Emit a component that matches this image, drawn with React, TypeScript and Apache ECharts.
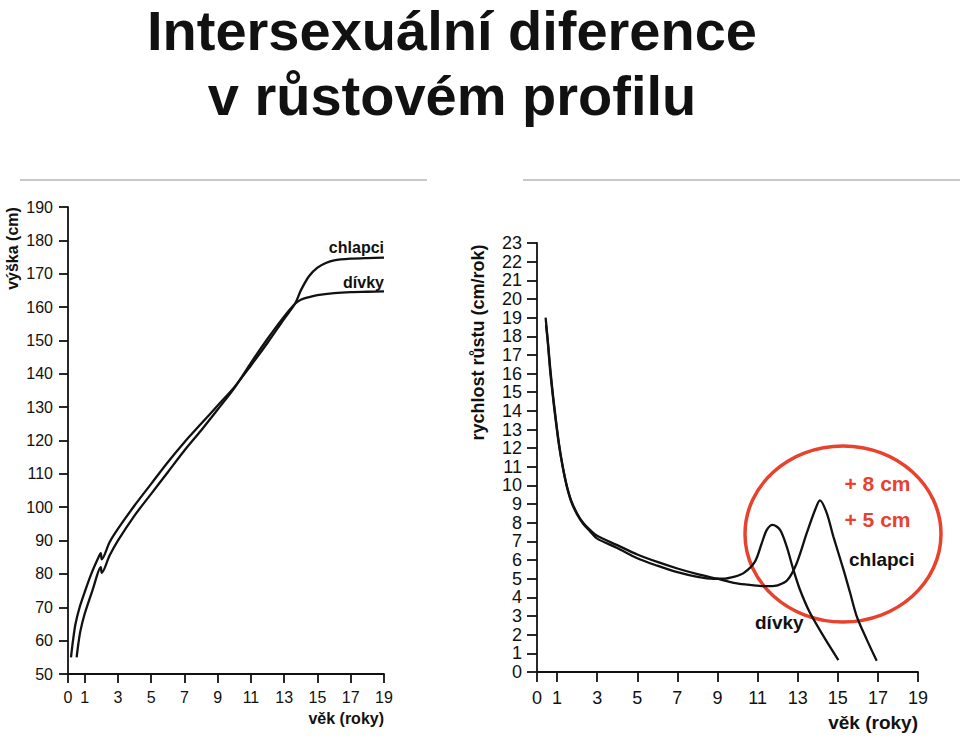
import React, { useEffect, useRef } from "react";
import * as echarts from "echarts";

// ---- data ----
const ageTicks = [0, 1, 3, 5, 7, 9, 11, 13, 15, 17, 19];

const boysHeightAges = [0.18, 0.3, 0.45, 0.7, 1.0, 1.4, 1.8, 1.97, 2.03, 2.5, 3, 4, 5, 6, 7, 8, 9, 10, 11, 12, 13, 13.65, 14, 14.5, 15, 15.5, 16, 17, 18, 19];
const boysHeight = [55, 60, 65, 70, 74.5, 80, 84.6, 86.2, 84.4, 89.5, 93.5, 100.5, 107, 113.5, 119.5, 125, 130.5, 136, 142.5, 149.3, 156.5, 161, 165, 169.3, 171.8, 173.2, 174, 174.5, 174.7, 174.8];

const girlsHeightAges = [0.52, 0.62, 0.75, 1.0, 1.5, 1.97, 2.03, 2.5, 3, 4, 5, 6, 7, 8, 9, 10, 11, 12, 13, 13.65, 14, 14.5, 15, 16, 17, 18, 19];
const girlsHeight = [55, 59, 63, 68, 75.5, 82, 80.3, 85.5, 90, 97.5, 104, 110.5, 117, 123, 129.3, 135.7, 143.3, 150.5, 157.2, 161, 162.2, 163, 163.6, 164.2, 164.5, 164.6, 164.7];

const boysVelAges = [0.43, 0.5, 0.57, 0.65, 0.78, 0.9, 1.1, 1.3, 1.48, 1.7, 2.0, 2.3, 2.64, 3, 4, 5, 6, 7, 8, 9, 9.8, 10.5, 11.1, 11.6, 12.0, 12.5, 12.95, 13.45, 13.87, 14.11, 14.45, 14.78, 15.28, 15.6, 15.94, 16.44, 16.94];
const boysVel = [19, 18.2, 17.4, 16.4, 15.0, 13.9, 12.2, 10.9, 10.0, 9.2, 8.5, 8.0, 7.62, 7.3, 6.8, 6.3, 5.9, 5.55, 5.25, 5.0, 4.78, 4.68, 4.62, 4.6, 4.64, 4.94, 5.83, 7.44, 8.7, 9.2, 8.52, 7.26, 5.5, 4.3, 3.0, 1.75, 0.6];

const girlsVelAges = [0.45, 0.52, 0.59, 0.67, 0.8, 0.92, 1.12, 1.32, 1.5, 1.72, 2.0, 2.3, 2.64, 3, 4, 5, 6, 7, 8, 8.8, 9.3, 9.8, 10.3, 10.87, 11.21, 11.46, 11.75, 12.12, 12.45, 12.78, 13.1, 13.6, 14.3, 15.03];
const girlsVel = [18.6, 17.9, 17.0, 16.0, 14.7, 13.6, 12.0, 10.8, 9.9, 9.1, 8.45, 7.95, 7.55, 7.15, 6.65, 6.1, 5.7, 5.35, 5.1, 5.0, 5.0, 5.1, 5.3, 5.92, 6.91, 7.62, 7.89, 7.62, 6.73, 5.5, 4.45, 3.2, 1.9, 0.64];

const zip = (a: number[], b: number[]) => a.map((x, i) => [x, b[i]]);

const FONT = "'Liberation Sans', Arial, Helvetica, sans-serif";
const INK = "#111";
const RED = "#e8412c";

export default function App() {
  const ref = useRef<HTMLDivElement>(null);
  useEffect(() => {
    if (!ref.current) return;
    const chart = echarts.init(ref.current, null, { renderer: "svg" });

    const axisCommon = (fontSize: number, margin: number, tickLen: number) => ({
      axisLine: { show: true, onZero: false, lineStyle: { color: INK, width: 1.8 } },
      axisTick: { show: true, length: tickLen, lineStyle: { color: INK, width: 1.8 } },
      axisLabel: { margin, fontSize, color: INK, fontFamily: FONT },
      splitLine: { show: false },
    });

    const xAx = (gridIndex: number, fontSize: number, margin: number, tickLen: number) => {
      const c: any = axisCommon(fontSize, margin, tickLen);
      return {
        gridIndex,
        type: "value",
        min: 0,
        max: 19,
        interval: 1,
        ...c,
        axisTick: { ...c.axisTick, customValues: ageTicks },
        axisLabel: { ...c.axisLabel, customValues: ageTicks },
      };
    };

    const lineSeries = (xi: number, data: number[][]) => ({
      type: "line",
      xAxisIndex: xi,
      yAxisIndex: xi,
      data,
      showSymbol: false,
      symbol: "none",
      smooth: 0.3,
      lineStyle: { color: INK, width: 2.3 },
      silent: true,
    });

    const txt = (text: string, x: number, y: number, fontSize: number, opts: any = {}) => ({
      type: "text",
      x,
      y,
      rotation: opts.rotation || 0,
      silent: true,
      style: {
        text,
        fill: opts.fill || INK,
        font: `${opts.weight || "bold"} ${fontSize}px ${FONT}`,
        align: opts.align || "center",
        verticalAlign: "middle",
      },
    });

    chart.setOption({
      animation: false,
      backgroundColor: "#ffffff",
      grid: [
        { left: 68, top: 207, width: 316, height: 467 },
        { left: 537, top: 243, width: 381, height: 429 },
      ],
      xAxis: [xAx(0, 16, 15, 9), xAx(1, 18, 17, 10)],
      yAxis: [
        { gridIndex: 0, type: "value", min: 50, max: 190, interval: 10, ...axisCommon(16, 15, 9) },
        { gridIndex: 1, type: "value", min: 0, max: 23, interval: 1, ...axisCommon(18, 15, 10) },
      ],
      series: [
        lineSeries(0, zip(boysHeightAges, boysHeight)),
        lineSeries(0, zip(girlsHeightAges, girlsHeight)),
        lineSeries(1, zip(boysVelAges, boysVel)),
        lineSeries(1, zip(girlsVelAges, girlsVel)),
      ],
      graphic: [
        txt("Intersexuální diference", 452, 30, 56),
        txt("v růstovém profilu", 452, 95, 56),
        { type: "line", silent: true, shape: { x1: 20, y1: 180, x2: 427, y2: 180 }, style: { stroke: "#c8c8c8", lineWidth: 2 } },
        { type: "line", silent: true, shape: { x1: 523, y1: 180, x2: 960, y2: 180 }, style: { stroke: "#c8c8c8", lineWidth: 2 } },
        txt("výška (cm)", 12, 248.5, 16, { rotation: Math.PI / 2 }),
        txt("rychlost růstu (cm/rok)", 478, 342.5, 18, { rotation: Math.PI / 2 }),
        txt("věk (roky)", 384, 718, 16, { align: "right" }),
        txt("věk (roky)", 918, 722, 19, { align: "right" }),
        txt("chlapci", 384, 247, 16, { align: "right" }),
        txt("dívky", 384, 282, 16, { align: "right" }),
        txt("chlapci", 849, 559, 19, { align: "left" }),
        txt("dívky", 755, 622, 19, { align: "left" }),
        {
          type: "ellipse",
          silent: true,
          shape: { cx: 843, cy: 534, rx: 98, ry: 88 },
          style: { fill: "none", stroke: RED, lineWidth: 3.5 },
        },
        txt("+ 8 cm", 877.5, 483, 21, { fill: RED }),
        txt("+ 5 cm", 877.5, 519, 21, { fill: RED }),
      ],
    });
    return () => chart.dispose();
  }, []);
  return (
    <div
      ref={ref}
      style={{ position: "fixed", left: 0, top: 0, width: 960, height: 749, background: "#fff" }}
    />
  );
}
